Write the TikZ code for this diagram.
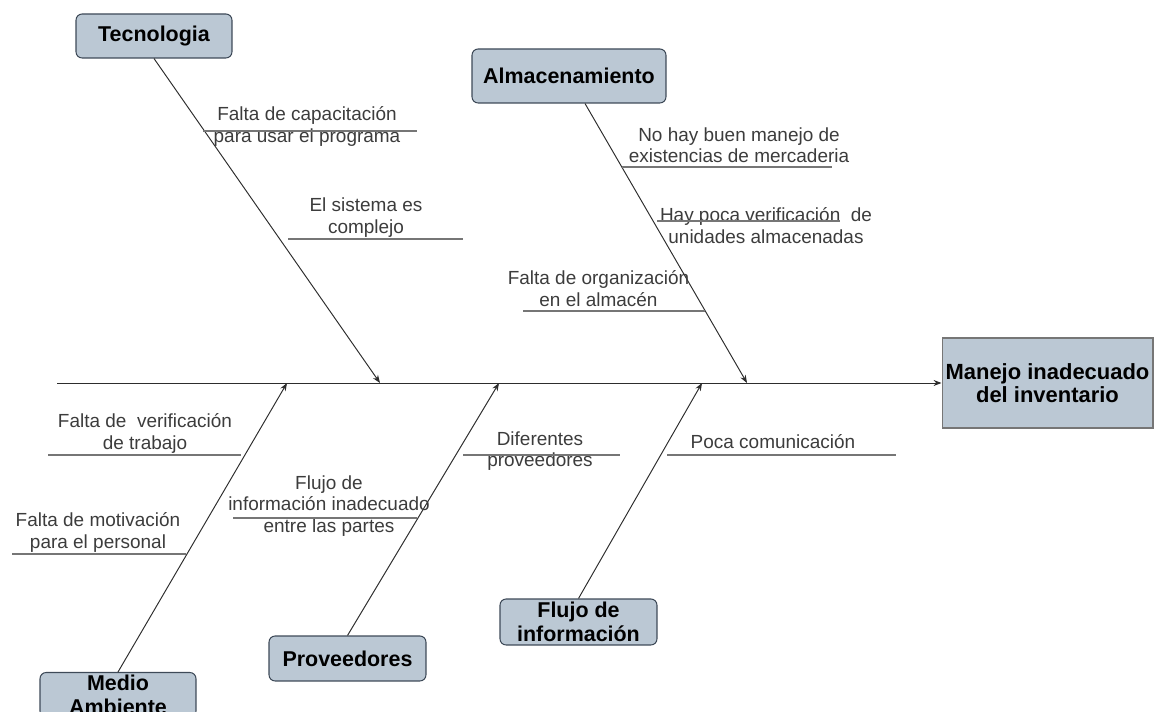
\documentclass[tikz,border=0pt]{standalone}
\usepackage{fontspec}
\setmainfont{Liberation Sans}
\usetikzlibrary{arrows.meta,positioning,calc}
\definecolor{cCaja}{RGB}{187,200,212}
\definecolor{cBorde}{RGB}{62,74,88}
\definecolor{cLinea}{RGB}{45,45,45}
\definecolor{cSub}{RGB}{118,118,118}
\definecolor{cTexto}{RGB}{60,60,60}
\tikzset{
	causa/.style={draw=cBorde, line width=0.6pt, rounded corners=3.5pt,
		fill=cCaja, inner sep=0pt, align=center,
		font=\bfseries\fontsize{12.2}{13.6}\selectfont},
	efecto/.style={draw=cSub, line width=0.6pt, fill=cCaja, inner sep=0pt,
		align=center, font=\bfseries\fontsize{12.5}{13}\selectfont},
	etiq/.style={inner sep=0pt, align=center, text=cTexto,
		font=\fontsize{10.8}{12.2}\selectfont},
	espina/.style={-{Stealth[length=4.5pt,width=3.4pt]}, line width=0.55pt,
		draw=cLinea},
	subl/.style={line width=0.7pt, draw=cSub},
}
\begin{document}
\begin{tikzpicture}[x=0.02cm, y=-0.02cm]
	\useasboundingbox (0,0) rectangle (1154,712);
	\clip (0,0) rectangle (1154,712);
	% cajas
	\node[efecto, minimum width=4.22cm, minimum height=1.8cm] (efecto) at (1047.5,383) {Manejo inadecuado\\del inventario};
	\node[causa, minimum width=3.12cm, minimum height=0.88cm] (tec) at (154,36) {Tecnologia};
	\node[causa, minimum width=3.88cm, minimum height=1.08cm] (alm) at (569,76) {Almacenamiento};
	\node[causa, minimum width=3.12cm, minimum height=0.9cm, anchor=north] (medio) at (118,672) {Medio\\Ambiente};
	\node[causa, minimum width=3.14cm, minimum height=0.9cm] (prov) at (347.5,658.5) {Proveedores};
	\node[causa, minimum width=3.14cm, minimum height=0.92cm] (flujo) at (578.5,622) {Flujo de\\informaci\'on};
	% espina central
	\coordinate (cola) at (57,383);
	\coordinate (pTec) at (380,383);
	\coordinate (pAlm) at (747,383);
	\coordinate (pMed) at (287,383);
	\coordinate (pPro) at (499,383);
	\coordinate (pFlu) at (702,383);
	\draw[espina] (cola) -- (efecto.west);
	\draw[espina] (tec.south) -- (pTec);
	\draw[espina] ($(alm.south)+(16,0)$) -- (pAlm);
	\draw[espina] (medio.north) -- (pMed);
	\draw[espina] (prov.north) -- (pPro);
	\draw[espina] (flujo.north) -- (pFlu);
	% causas secundarias
	\node[etiq] (capac) at (307,126.5) {Falta de capacitación\\para usar el programa};
	\node[etiq] (compl) at (366,217.5) {El sistema es\\complejo};
	\node[etiq] (exist) at (739,145) {No hay buen manejo de\\existencias de mercaderia};
	\node[etiq] (verif) at (766,225.5) {Hay poca verificación\ \ de\\unidades almacenadas};
	\node[etiq] (organ) at (598.5,288.5) {Falta de organización\\en el almacén};
	\node[etiq] (trab) at (145,433.5) {Falta de \ verificación\\de trabajo};
	\node[etiq] (motiv) at (98,532.5) {Falta de motivación\\para el personal};
	\node[etiq] (infor) at (329,506) {Flujo de\\información inadecuado\\entre las partes};
	\node[etiq] (difer) at (540,451) {Diferentes\\proveedores};
	\node[etiq] (comun) at (773,442) {Poca comunicación};
	\draw[subl] (203,131) -- (417,131);
	\draw[subl] (288,239) -- (463,239);
	\draw[subl] (622,167) -- (832,167);
	\draw[subl] (657,221) -- (840,221);
	\draw[subl] (523,311) -- (705,311);
	\draw[subl] (48,455) -- (241,455);
	\draw[subl] (12,554) -- (186,554);
	\draw[subl] (233,518) -- (417,518);
	\draw[subl] (463,455) -- (620,455);
	\draw[subl] (667,455) -- (896,455);
\end{tikzpicture}
\end{document}
